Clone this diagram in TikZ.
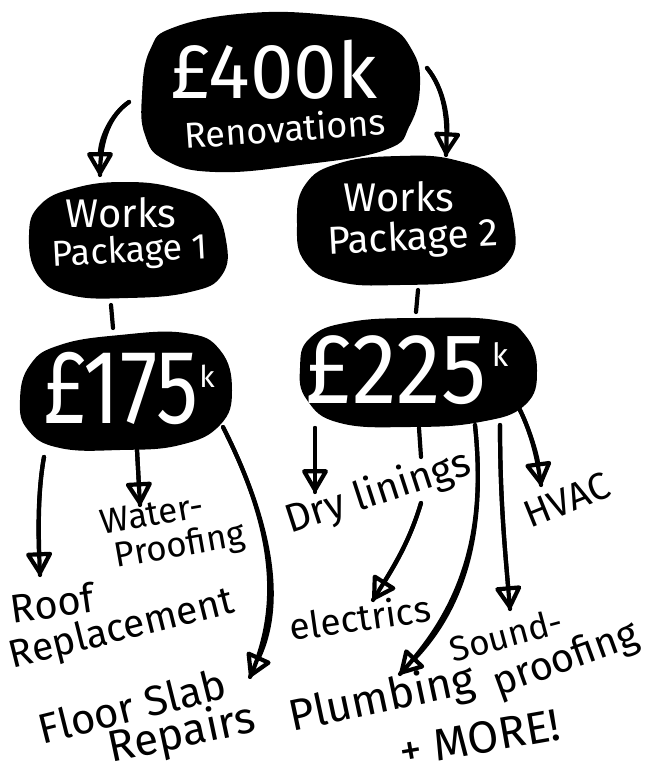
\documentclass[tikz,border=0pt]{standalone}
\usepackage{fontspec}
\setmainfont{Fira Sans}
\usetikzlibrary{arrows.meta}
\tikzset{
  wtext/.style={text=white, inner sep=0pt, align=center},
  lab/.style={text=black, inner sep=0pt, align=center},
  conn/.style={line width=4.2pt, line cap=round},
  arr/.style={conn, -{Triangle[open,length=25pt,width=28pt,line width=4.2pt,round]}},
}
\newcommand{\fs}[1]{\fontsize{#1}{#1}\selectfont}
\newcommand{\arrowpath}[1]{\draw[conn] #1; \draw[arr] #1;}
\begin{document}
\begin{tikzpicture}[x=1pt,y=-1pt]
\useasboundingbox (0,0) rectangle (650,778);
% blobs
\fill[black] plot[smooth cycle, tension=0.75] coordinates {(142,95) (150,50) (175,27) (250,13) (330,15) (385,25) (412,50) (420,85) (410,125) (385,150) (300,165) (215,172) (165,160) (145,135)};
\fill[black] plot[smooth cycle, tension=0.75] coordinates {(29,235) (40,205) (75,188) (125,182) (175,188) (210,205) (226,240) (222,275) (190,292) (128,298) (70,295) (38,275)};
\fill[black] plot[smooth cycle, tension=0.75] coordinates {(297,225) (305,185) (340,163) (400,156) (455,160) (495,180) (514,225) (508,262) (470,280) (400,285) (340,282) (305,262)};
\fill[black] plot[smooth cycle, tension=0.75] coordinates {(20,400) (30,365) (60,345) (120,335) (185,333) (220,350) (232,390) (220,425) (180,445) (120,450) (60,448) (28,430)};
\fill[black] plot[smooth cycle, tension=0.75] coordinates {(300,368) (310,338) (350,322) (420,318) (495,320) (525,335) (537,370) (525,405) (480,422) (410,427) (340,423) (307,400)};
% white texts
\node[wtext, font=\fs{78}] (t400) at (274,70) {£400k};
\node[wtext, font=\fs{36}, rotate=4] (ren) at (285,128) {Renovations};
\node[wtext, font=\fs{40}] (wk1) at (121,213) {Works};
\node[wtext, font=\fs{36}, rotate=3] (pk1) at (130,253) {Package 1};
\node[wtext, font=\fs{40}] (wk2) at (399,197) {Works};
\node[wtext, font=\fs{39}, rotate=3] (pk2) at (413,240) {Package 2};
\node[wtext, font=\fs{105}, xscale=0.8] (t175) at (121,388) {£175};
\node[wtext, font=\fs{30}] (k175) at (207,376) {k};
\node[wtext, font=\fs{100}, xscale=0.9] (t225) at (396,370) {£225};
\node[wtext, font=\fs{32}] (k225) at (500,354) {k};
% black labels
\node[lab, font=\fs{35}, rotate=10] (water) at (152,514) {Water-};
\node[lab, font=\fs{35}, rotate=10] (proof1) at (180,547) {Proofing};
\node[lab, font=\fs{40}, rotate=8] (roof) at (52,603) {Roof};
\node[lab, font=\fs{39}, rotate=14] (repl) at (122,630) {Replacement};
\node[lab, font=\fs{42}, rotate=14] (floor) at (132,706) {Floor Slab};
\node[lab, font=\fs{44}, rotate=12] (repairs) at (182,735) {Repairs};
\node[lab, font=\fs{40}, rotate=18] (dry) at (378,493) {Dry linings};
\node[lab, font=\fs{38}, rotate=22] (hvac) at (567,500) {HVAC};
\node[lab, font=\fs{37}, rotate=8] (elec) at (360,617) {electrics};
\node[lab, font=\fs{35}, rotate=15] (sound) at (506,635) {Sound-};
\node[lab, font=\fs{40}, rotate=20] (proof2) at (566,660) {proofing};
\node[lab, font=\fs{44}, rotate=12] (plumb) at (382,700) {Plumbing};
\node[lab, font=\fs{45}, rotate=10] (more) at (480,738) {+ MORE!};
% connector end points
\coordinate (c1s) at (129,102); \coordinate (c1e) at (100,175);
\coordinate (c2s) at (427,68);  \coordinate (c2e) at (446,155);
\coordinate (l1s) at (111,305); \coordinate (l1e) at (113,328);
\coordinate (l2s) at (418,290); \coordinate (l2e) at (416,312);
\coordinate (r1s) at (44,457);  \coordinate (r1e) at (40,575);
\coordinate (w1s) at (137,450); \coordinate (w1e) at (140,505);
\coordinate (f1s) at (223,427); \coordinate (f1e) at (250,677);
\coordinate (d1s) at (315,428); \coordinate (d1e) at (315,492);
\coordinate (m1s) at (419,428); \coordinate (m1e) at (421,457);
\coordinate (e1s) at (421,503); \coordinate (e1e) at (373,600);
\coordinate (p1s) at (475,425); \coordinate (p1e) at (400,674);
\coordinate (s1s) at (500,425); \coordinate (s1e) at (510,609);
\coordinate (h1s) at (519,408); \coordinate (h1e) at (541,485);
% connectors
\arrowpath{(c1s) .. controls (110,115) and (100,140) .. (c1e)}
\arrowpath{(c2s) .. controls (445,90) and (448,120) .. (c2e)}
\draw[conn] (l1s) -- (l1e);
\draw[conn] (l2s) -- (l2e);
\arrowpath{(r1s) .. controls (38,490) and (38,530) .. (r1e)}
\arrowpath{(w1s) -- (w1e)}
\arrowpath{(f1s) .. controls (270,520) and (285,600) .. (f1e)}
\arrowpath{(d1s) -- (d1e)}
\draw[conn] (m1s) -- (m1e);
\arrowpath{(e1s) .. controls (410,540) and (395,565) .. (e1e)}
\arrowpath{(p1s) .. controls (485,520) and (470,600) .. (p1e)}
\arrowpath{(s1s) .. controls (500,500) and (505,550) .. (s1e)}
\arrowpath{(h1s) .. controls (530,430) and (537,455) .. (h1e)}
\end{tikzpicture}
\end{document}
